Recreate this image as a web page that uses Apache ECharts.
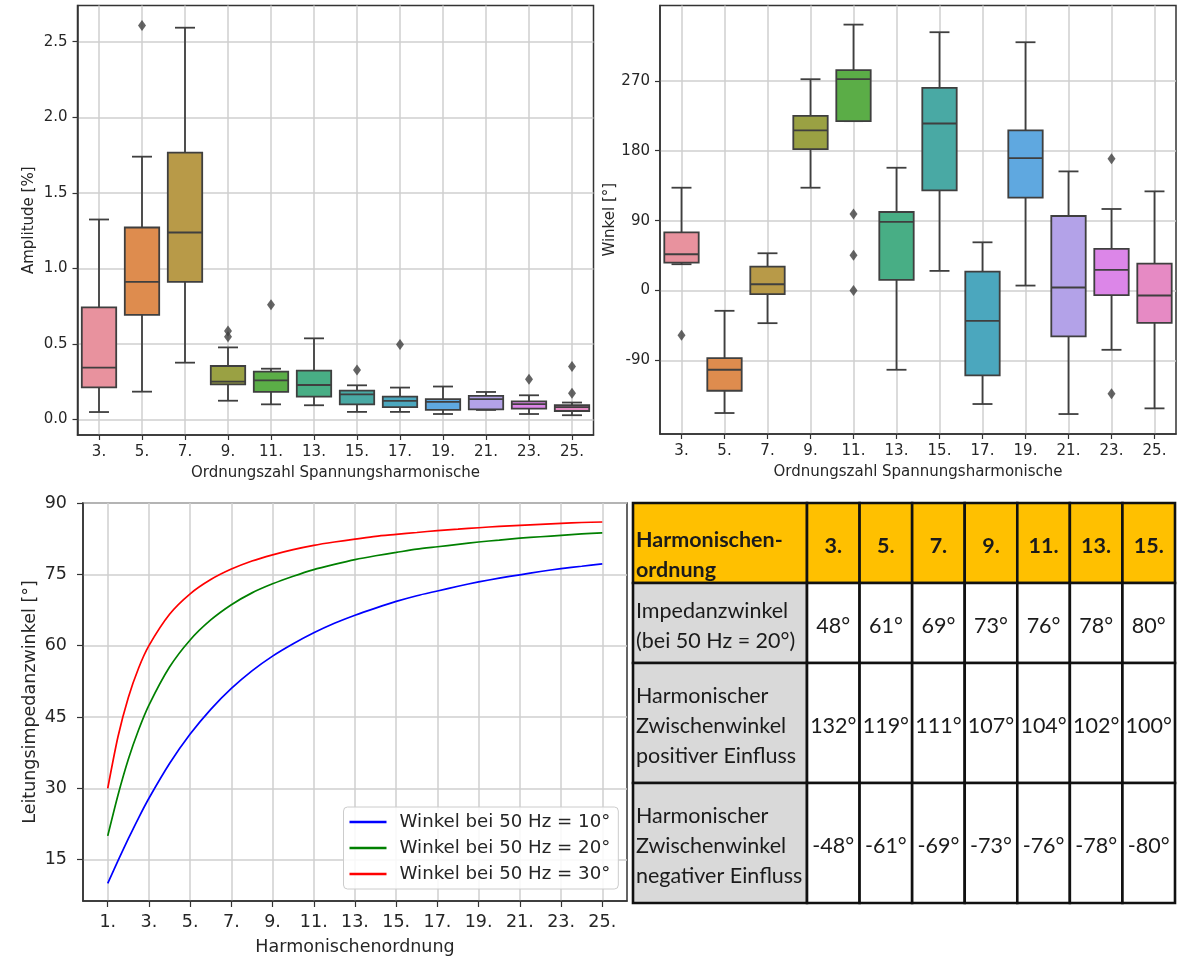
<!DOCTYPE html>
<html><head><meta charset="utf-8">
<script src="https://cdn.jsdelivr.net/npm/echarts@6/dist/echarts.min.js"></script>
<style>html,body{margin:0;padding:0;background:#fff}#c{width:1185px;height:957px}</style>
</head><body><div id="c"></div><script>
// ---------- data ----------
const harmonicLabels = ['3.','5.','7.','9.','11.','13.','15.','17.','19.','21.','23.','25.'];
// [lower whisker, Q1, median, Q3, upper whisker]
const amplitudeStats = [
  [0.048,0.212,0.342,0.741,1.323],
  [0.183,0.692,0.910,1.270,1.739],
  [0.375,0.910,1.237,1.766,2.593],
  [0.123,0.231,0.249,0.353,0.476],
  [0.099,0.181,0.258,0.315,0.335],
  [0.093,0.150,0.227,0.322,0.536],
  [0.049,0.099,0.165,0.190,0.225],
  [0.049,0.080,0.122,0.150,0.210],
  [0.035,0.062,0.115,0.133,0.217],
  [0.062,0.066,0.133,0.155,0.181],
  [0.035,0.071,0.100,0.119,0.159],
  [0.027,0.055,0.080,0.093,0.111]
];
const amplitudeOutliers = [[1,2.608],[3,0.584],[3,0.547],[4,0.758],[6,0.326],[7,0.495],[10,0.265],[11,0.350],[11,0.173]];
const angleStats = [
  [33.9,36.0,46.7,75.0,132.4],
  [-157.7,-129.0,-102.0,-87.0,-26.1],
  [-42.0,-4.7,8.1,30.9,48.0],
  [132.4,182.1,206.1,225.0,272.1],
  [218.1,218.1,272.1,283.7,342.4],
  [-102.0,13.7,88.3,101.1,158.1],
  [25.3,129.0,215.1,261.0,332.6],
  [-146.1,-109.3,-39.0,24.4,62.1],
  [6.4,119.6,170.6,206.1,319.7],
  [-159.0,-59.1,3.9,96.0,153.4],
  [-76.3,-6.0,26.6,53.6,105.0],
  [-151.7,-41.6,-6.4,34.7,127.7]
];
const angleOutliers = [[0,-57.4],[4,98.6],[4,45.4],[4,0],[10,169.7],[10,-132.9]];
const amplitudeTicks = [0,0.5,1.0,1.5,2.0,2.5];
const angleTicks = [-90,0,90,180,270];

const harmonicOrder = [1,1.5,2,2.5,3,4,5,6,7,8,9,10,11,12,13,14,15,16,17,18,19,20,21,22,23,24,25];
const angle10 = [10.0,14.8,19.4,23.8,27.9,35.2,41.4,46.6,51.0,54.7,57.8,60.4,62.7,64.7,66.4,67.9,69.3,70.5,71.5,72.5,73.4,74.2,74.9,75.6,76.2,76.7,77.2];
const angle20 = [20.0,28.6,36.1,42.3,47.5,55.5,61.2,65.4,68.6,71.1,73.0,74.6,76.0,77.1,78.1,78.9,79.6,80.3,80.8,81.3,81.8,82.2,82.6,82.9,83.2,83.5,83.7];
const angle30 = [30.0,40.9,49.1,55.3,60.0,66.6,70.9,73.9,76.1,77.8,79.1,80.2,81.1,81.8,82.4,83.0,83.4,83.8,84.2,84.5,84.8,85.1,85.3,85.5,85.7,85.9,86.0];
const lineNames = ['Winkel bei 50 Hz = 10°','Winkel bei 50 Hz = 20°','Winkel bei 50 Hz = 30°'];
const lineXTicks = [1,3,5,7,9,11,13,15,17,19,21,23,25];
const lineYTicks = [15,30,45,60,75,90];

const tableHeader = ['Harmonischen-\nordnung','3.','5.','7.','9.','11.','13.','15.'];
const rowLabels = ['Impedanzwinkel\n(bei 50 Hz = 20°)','Harmonischer\nZwischenwinkel\npositiver Einfluss','Harmonischer\nZwischenwinkel\nnegativer Einfluss'];
const impedanceAngle = [48,61,69,73,76,78,80];
const positiveAngle = [132,119,111,107,104,102,100];
const negativeAngle = [-48,-61,-69,-73,-76,-78,-80];

// ---------- styles ----------
const boxColors = ['#E8929E','#DE8C4E','#B89A48','#9AA143','#5BAD47','#48AE85','#49A9A4','#4BA7BE','#5FA8E0','#B3A2E8','#DC86E8','#E68AC4'];
const EDGE = '#3f3f3f';
const FRAME = '#333333';
const TXT = '#262626';
const GRIDC = '#cfcfcf';
const FONT = 'DejaVu Sans';

function boxRenderer(params, api) {
  const i = api.value(0);
  const lo = api.coord([i, api.value(1)]);
  const q1 = api.coord([i, api.value(2)]);
  const md = api.coord([i, api.value(3)]);
  const q3 = api.coord([i, api.value(4)]);
  const hi = api.coord([i, api.value(5)]);
  const band = api.size([1, 0])[0];
  const bw = band * 0.8;
  const cap = bw * 0.29;
  const cx = md[0];
  const st = { stroke: EDGE, lineWidth: 1.8, fill: null };
  return { type: 'group', children: [
    { type: 'line', shape: { x1: cx, y1: q3[1], x2: cx, y2: hi[1] }, style: st },
    { type: 'line', shape: { x1: cx, y1: q1[1], x2: cx, y2: lo[1] }, style: st },
    { type: 'line', shape: { x1: cx - cap, y1: hi[1], x2: cx + cap, y2: hi[1] }, style: st },
    { type: 'line', shape: { x1: cx - cap, y1: lo[1], x2: cx + cap, y2: lo[1] }, style: st },
    { type: 'rect', shape: { x: cx - bw / 2, y: q3[1], width: bw, height: q1[1] - q3[1] },
      style: { fill: boxColors[params.dataIndex], stroke: EDGE, lineWidth: 1.8 } },
    { type: 'line', shape: { x1: cx - bw / 2, y1: md[1], x2: cx + bw / 2, y2: md[1] }, style: st }
  ]};
}

function axisBase(fs, margin, tickLen) {
  return {
    axisLine: { show: true, onZero: false, lineStyle: { color: FRAME, width: 1.5 } },
    axisTick: { show: true, length: tickLen, lineStyle: { color: FRAME, width: 1.2 } },
    axisLabel: { color: TXT, fontFamily: FONT, fontSize: fs, margin: margin },
    splitLine: { show: true, lineStyle: { color: GRIDC, width: 1.5 } },
    nameTextStyle: { color: TXT, fontFamily: FONT, fontSize: fs },
    nameLocation: 'middle'
  };
}
function mk(base, extra) {
  const o = JSON.parse(JSON.stringify(base));
  for (const k in extra) {
    if (extra[k] && typeof extra[k] === 'object' && !Array.isArray(extra[k]) && o[k]) Object.assign(o[k], extra[k]);
    else o[k] = extra[k];
  }
  return o;
}

const catIdx = harmonicLabels.map((_, i) => i);
const gridBorder = { show: true, borderColor: FRAME, borderWidth: 1.5, backgroundColor: '#fff' };

// table layout
const FIRST = 3.31;
const ROW_EDGES = [0, 2, 4, 7, 10];
function cellText(c, r) {
  if (r === 0) return tableHeader[c];
  if (c === 0) return rowLabels[r - 1];
  return [impedanceAngle, positiveAngle, negativeAngle][r - 1][c - 1] + '°';
}
const tableCells = [];
for (let r = 0; r < 4; r++) for (let c = 0; c < 8; c++) tableCells.push([c, r]);

function tableRenderer(params, api) {
  const c = api.value(0), r = api.value(1);
  const x0 = c === 0 ? 0 : FIRST + c - 1, x1 = c === 0 ? FIRST : FIRST + c;
  const p0 = api.coord([x0, ROW_EDGES[r]]), p1 = api.coord([x1, ROW_EDGES[r + 1]]);
  const fill = r === 0 ? '#FFC000' : (c === 0 ? '#D9D9D9' : '#FFFFFF');
  const cy = (p0[1] + p1[1]) / 2 + (r === 0 && c === 0 ? 12 : 3);
  return { type: 'group', children: [
    { type: 'rect', shape: { x: p0[0], y: p0[1], width: p1[0] - p0[0], height: p1[1] - p0[1] },
      style: { fill: fill, stroke: '#111', lineWidth: 2.6 } },
    { type: 'text', style: {
        text: cellText(c, r), x: c === 0 ? p0[0] + 3 : (p0[0] + p1[0]) / 2, y: cy,
        align: c === 0 ? 'left' : 'center', verticalAlign: 'middle',
        fontFamily: 'Lato', fontSize: 21.5, fontWeight: r === 0 ? 'bold' : 'normal',
        lineHeight: 30, fill: '#1b1b1b' } }
  ]};
}

const chart = echarts.init(document.getElementById('c'), null, { renderer: 'canvas' });
const topBase = axisBase(15, 10, 5);
const botBase = axisBase(17.5, 16, 6);

function curve(name, values, color) {
  return { type: 'line', name: name, xAxisIndex: 2, yAxisIndex: 2, showSymbol: false, smooth: 0.25,
    lineStyle: { color: color, width: 1.7 }, itemStyle: { color: color },
    data: harmonicOrder.map((h, i) => [h, values[i]]) };
}

chart.setOption({
  animation: false,
  backgroundColor: '#fff',
  grid: [
    Object.assign({ left: 77.5, top: 5.5, width: 516, height: 429.5 }, gridBorder),
    Object.assign({ left: 660, top: 5.5, width: 516, height: 428.5 }, gridBorder),
    Object.assign({ left: 83, top: 503, width: 544, height: 399 }, gridBorder),
    { left: 633, top: 503, width: 542, height: 400, show: false }
  ],
  xAxis: [
    mk(topBase, { type: 'value', gridIndex: 0, min: -0.5, max: 11.5,
      axisLabel: { customValues: catIdx, formatter: v => harmonicLabels[Math.round(v)] },
      axisTick: { customValues: catIdx },
      name: 'Ordnungszahl Spannungsharmonische', nameGap: 31 }),
    mk(topBase, { type: 'value', gridIndex: 1, min: -0.5, max: 11.5,
      axisLabel: { customValues: catIdx, formatter: v => harmonicLabels[Math.round(v)] },
      axisTick: { customValues: catIdx },
      name: 'Ordnungszahl Spannungsharmonische', nameGap: 31 }),
    mk(botBase, { type: 'value', gridIndex: 2, min: -0.2, max: 26.2,
      axisLabel: { customValues: lineXTicks, formatter: v => Math.round(v) + '.', margin: 12 },
      axisTick: { customValues: lineXTicks },
      name: 'Harmonischenordnung', nameGap: 37 }),
    { type: 'value', gridIndex: 3, min: 0, max: FIRST + 7, show: false }
  ],
  yAxis: [
    mk(topBase, { type: 'value', gridIndex: 0, min: -0.104, max: 2.740,
      axisLabel: { customValues: amplitudeTicks, formatter: v => v.toFixed(1) },
      axisTick: { customValues: amplitudeTicks },
      name: 'Amplitude [%]', nameGap: 41 }),
    mk(topBase, { type: 'value', gridIndex: 1, min: -184.7, max: 367,
      axisLabel: { customValues: angleTicks, formatter: v => String(Math.round(v)) },
      axisTick: { customValues: angleTicks },
      name: 'Winkel [°]', nameGap: 41 }),
    mk(botBase, { type: 'value', gridIndex: 2, min: 6.3, max: 90,
      axisLabel: { customValues: lineYTicks, formatter: v => String(Math.round(v)) },
      axisTick: { customValues: lineYTicks },
      name: 'Leitungsimpedanzwinkel [°]', nameGap: 44 }),
    { type: 'value', gridIndex: 3, min: 0, max: 10, inverse: true, show: false }
  ],
  legend: {
    data: lineNames, orient: 'vertical', left: 343.5, top: 807,
    padding: [6, 8, 6, 6], itemGap: 8, itemWidth: 37, itemHeight: 2.5, icon: 'rect',
    backgroundColor: 'rgba(255,255,255,0.85)', borderColor: '#cccccc', borderWidth: 1, borderRadius: 4,
    textStyle: { color: TXT, fontFamily: FONT, fontSize: 18.2, padding: [0, 0, 0, 8] }
  },
  series: [
    { type: 'custom', xAxisIndex: 0, yAxisIndex: 0, renderItem: boxRenderer,
      encode: { x: 0, y: [1, 2, 3, 4, 5] },
      data: amplitudeStats.map((s, i) => [i].concat(s)) },
    { type: 'scatter', xAxisIndex: 0, yAxisIndex: 0, symbol: 'diamond', symbolSize: [8, 11],
      itemStyle: { color: EDGE }, data: amplitudeOutliers },
    { type: 'custom', xAxisIndex: 1, yAxisIndex: 1, renderItem: boxRenderer,
      encode: { x: 0, y: [1, 2, 3, 4, 5] },
      data: angleStats.map((s, i) => [i].concat(s)) },
    { type: 'scatter', xAxisIndex: 1, yAxisIndex: 1, symbol: 'diamond', symbolSize: [8, 11],
      itemStyle: { color: EDGE }, data: angleOutliers },
    curve(lineNames[0], angle10, '#0000ff'),
    curve(lineNames[1], angle20, '#008000'),
    curve(lineNames[2], angle30, '#ff0000'),
    { type: 'custom', xAxisIndex: 3, yAxisIndex: 3, renderItem: tableRenderer,
      encode: { x: 0, y: 1 }, data: tableCells, clip: false }
  ]
});
</script></body></html>
